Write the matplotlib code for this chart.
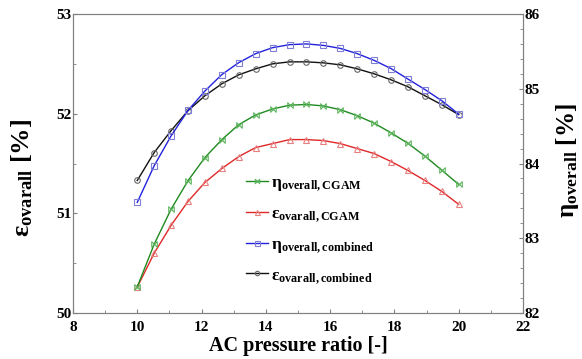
import numpy as np
import matplotlib
matplotlib.use("Agg")
import matplotlib.pyplot as plt
from matplotlib.path import Path
from matplotlib.ticker import MultipleLocator

plt.rcParams['font.family'] = ['Liberation Serif', 'DejaVu Serif']
plt.rcParams['font.weight'] = 'bold'
plt.rcParams['mathtext.fontset'] = 'custom'
plt.rcParams['mathtext.rm'] = 'Liberation Serif:bold'
plt.rcParams['mathtext.bf'] = 'Liberation Serif:bold'
plt.rcParams['mathtext.it'] = 'Liberation Serif:bold'

# AC pressure ratio (20 points from 10 to 20)
pr = [10.0, 10.526, 11.053, 11.579, 12.105, 12.632, 13.158, 13.684, 14.211, 14.737,
      15.263, 15.789, 16.316, 16.842, 17.368, 17.895, 18.421, 18.947, 19.474, 20.0]

# exergy efficiencies (left axis) [%]
eps_cgam = [50.26, 50.60, 50.88, 51.12, 51.31, 51.45, 51.57, 51.66, 51.70, 51.74,
            51.74, 51.73, 51.70, 51.65, 51.60, 51.52, 51.43, 51.33, 51.22, 51.09]
eps_comb = [51.33, 51.61, 51.83, 52.03, 52.18, 52.30, 52.39, 52.45, 52.50, 52.52,
            52.52, 52.51, 52.49, 52.45, 52.40, 52.34, 52.27, 52.18, 52.09, 51.99]

# energy efficiencies (right axis) [%]
eta_cgam = [82.35, 82.92, 83.39, 83.77, 84.08, 84.32, 84.52, 84.65, 84.73, 84.78,
            84.79, 84.77, 84.72, 84.64, 84.54, 84.41, 84.27, 84.10, 83.91, 83.72]
eta_comb = [83.48, 83.97, 84.37, 84.71, 84.97, 85.19, 85.35, 85.47, 85.55, 85.59,
            85.60, 85.58, 85.54, 85.47, 85.38, 85.27, 85.13, 84.99, 84.84, 84.66]

bowtie = Path([(-1, -1), (1, 1), (1, -1), (-1, 1), (-1, -1)],
              [Path.MOVETO, Path.LINETO, Path.LINETO, Path.LINETO, Path.CLOSEPOLY])

fig = plt.figure(figsize=(5.82, 3.59), dpi=100)
ax = fig.add_axes([0.1254, 0.1281, 0.7732, 0.8329])
ax2 = ax.twinx()

spine_c = '#808080'

l_eta_cgam, = ax2.plot(pr, eta_cgam, color='#1f8a1f', lw=1.0, marker=bowtie, ms=4,
                       mfc='none', mec='#5fb55f', mew=0.8)
l_eps_cgam, = ax.plot(pr, eps_cgam, color='#e02828', lw=1.0, marker='^', ms=4.5,
                      mfc='none', mec='#e88080', mew=0.8)
l_eta_comb, = ax2.plot(pr, eta_comb, color='#2222dd', lw=1.0, marker='s', ms=4.5,
                       mfc='none', mec='#7f7fd8', mew=0.8)
l_eps_comb, = ax.plot(pr, eps_comb, color='#111111', lw=1.0, marker='o', ms=4,
                      mfc='none', mec='#666666', mew=0.8)

ax.set_xlim(8, 22)
ax.set_ylim(50, 53)
ax2.set_ylim(82, 86)
ax.xaxis.set_major_locator(MultipleLocator(2))
ax.xaxis.set_minor_locator(MultipleLocator(1))
ax.yaxis.set_major_locator(MultipleLocator(1))
ax.yaxis.set_minor_locator(MultipleLocator(0.5))
ax2.yaxis.set_major_locator(MultipleLocator(1))
ax2.yaxis.set_minor_locator(MultipleLocator(0.2))

for a in (ax, ax2):
    for s in a.spines.values():
        s.set_color(spine_c)
        s.set_linewidth(0.8)
    a.tick_params(which='both', direction='in', color=spine_c, labelsize=11, pad=1)
    a.tick_params(which='major', length=3)
    a.tick_params(which='minor', length=2)
ax.tick_params(axis='y', which='both', right=False)
ax.tick_params(axis='x', which='both', top=False, pad=6)

ax.set_xlabel('AC pressure ratio [-]', fontsize=14.5, fontweight='bold', labelpad=1)
ax.set_ylabel(r'ε$_{\mathrm{ovarall}}$ [%]', fontsize=19, fontweight='bold')
ax2.set_ylabel(r'η$_{\mathrm{overall}}$ [%]', fontsize=18, fontweight='bold')
ax.yaxis.set_label_coords(-0.085, 0.45)
ax2.yaxis.set_label_coords(1.068, 0.51)

handles = [l_eta_cgam, l_eps_cgam, l_eta_comb, l_eps_comb]
labels = [r'η$_{\mathrm{overall,CGAM}}$', r'ε$_{\mathrm{ovarall,CGAM}}$',
          r'η$_{\mathrm{overall,combined}}$', r'ε$_{\mathrm{ovarall,combined}}$']
leg = ax.legend(handles, labels, loc='upper left', bbox_to_anchor=(0.35, 0.515),
                frameon=False, fontsize=12.5, handlelength=1.25, handletextpad=0.2,
                labelspacing=0.72, markerscale=0.8)

fig.savefig('out.png', dpi=100)
